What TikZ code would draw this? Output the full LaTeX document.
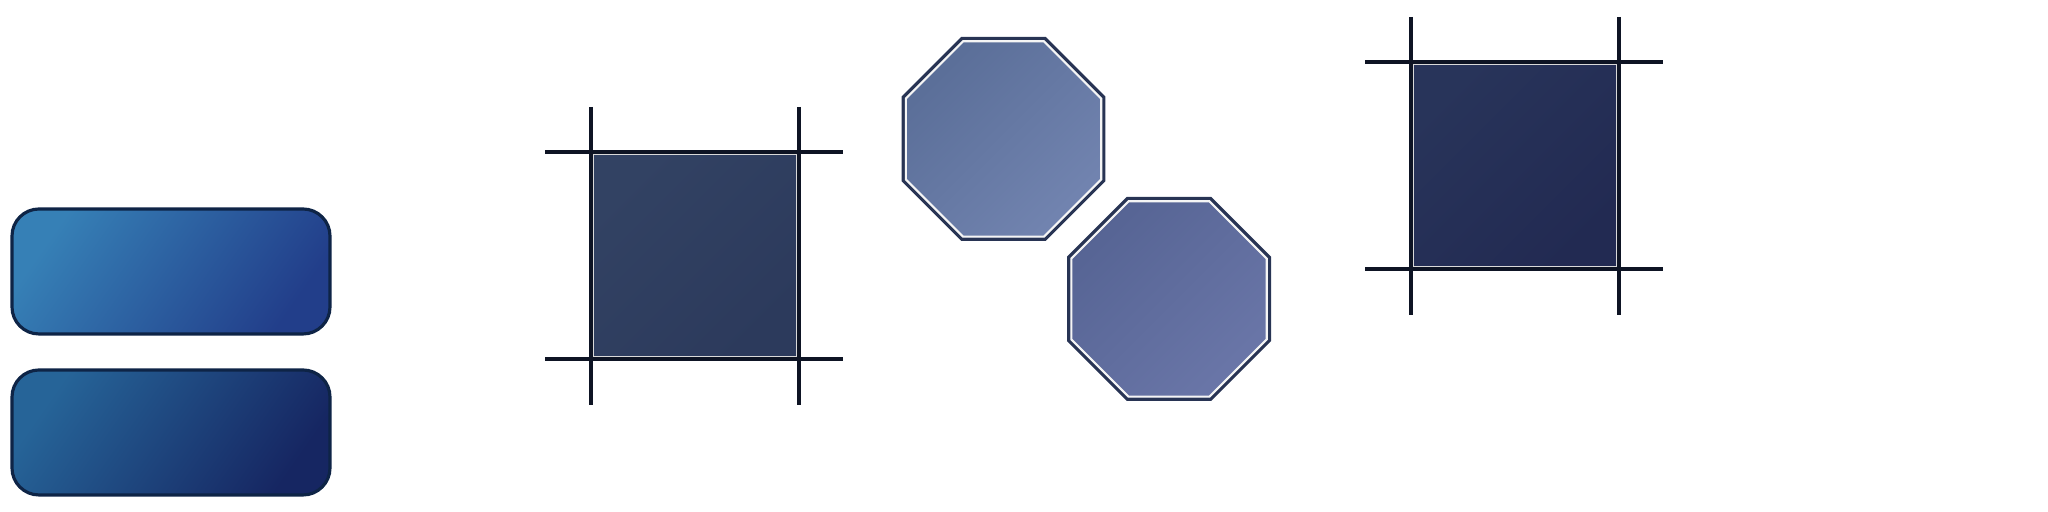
\documentclass[tikz,border=0pt]{standalone}
\usepackage{xcolor}
\definecolor{BoxLight}{RGB}{54,128,182}
\definecolor{BoxDark}{RGB}{34,62,138}
\definecolor{BoxLightB}{RGB}{38,100,152}
\definecolor{BoxDarkB}{RGB}{22,38,98}
\definecolor{BoxEdge}{RGB}{14,36,70}
\definecolor{SlateA}{RGB}{50,66,99}
\definecolor{SlateAdark}{RGB}{44,58,92}
\definecolor{SlateB}{RGB}{40,52,90}
\definecolor{SlateBdark}{RGB}{34,42,82}
\definecolor{CropInk}{RGB}{14,20,36}
\definecolor{OctDark}{RGB}{90,110,152}
\definecolor{OctLight}{RGB}{114,132,176}
\definecolor{OctDarkB}{RGB}{86,100,148}
\definecolor{OctLightB}{RGB}{106,118,168}
\definecolor{OctEdge}{RGB}{40,52,84}
\usetikzlibrary{shapes, shapes.geometric, positioning, calc}
\tikzset{
  % Rounded gradient bar
  rbar/.style={
    rectangle, rounded corners=0.27cm,
    draw=BoxEdge, line width=0.9pt,
    minimum width=3.18cm, minimum height=1.25cm,
    inner sep=0pt, outer sep=0pt
  },
  % Framed square (fill part)
  framesq/.style={
    rectangle, draw=white!70!gray, line width=0.5pt,
    minimum size=2.03cm, inner sep=0pt, outer sep=0pt
  },
  % Crop marks through the square corners
  crop/.style={CropInk, line width=1.1pt},
  % Octagon
  octo/.style={
    regular polygon, regular polygon sides=8,
    draw=OctEdge, line width=1pt,
    minimum size=2.17cm, inner sep=0pt, outer sep=0pt
  },
  octoline/.style={
    regular polygon, regular polygon sides=8,
    draw=white!92!gray, line width=0.6pt,
    minimum size=2.115cm, inner sep=0pt, outer sep=0pt
  },
}

\begin{document}
\begin{tikzpicture}

  \useasboundingbox (0,0) rectangle (20.48,5.12);

  %% Gradient bars
  \node[rbar, top color=BoxLight, bottom color=BoxDark, shading angle=55]
    (barA) at (1.71,2.405) {};
  \node[rbar, top color=BoxLightB, bottom color=BoxDarkB, shading angle=55]
    (barB) at (1.71,0.795) {};

  %% Square with crop marks (left)
  \node[framesq, top color=SlateA, bottom color=SlateAdark, shading angle=45]
    (sqA) at (6.95,2.565) {};
  \coordinate (sqAnw) at ($(sqA.center)+(-1.04,1.035)$);
  \coordinate (sqAse) at ($(sqA.center)+(1.04,-1.035)$);
  \draw[crop] ($(sqAnw)+(-0.46,0)$) -- ($(sqAnw)+(2.52,0)$);
  \draw[crop] ($(sqAse)+(-2.54,0)$) -- ($(sqAse)+(0.44,0)$);
  \draw[crop] ($(sqAnw)+(0,0.45)$) -- ($(sqAnw)+(0,-2.53)$);
  \draw[crop] ($(sqAse)+(0,2.52)$) -- ($(sqAse)+(0,-0.46)$);

  %% Octagons
  \node[octo, top color=OctDark, bottom color=OctLight, shading angle=45]
    (octA) at (10.035,3.73) {};
  \node[octoline] (octAin) at (octA.center) {};
  \node[octo, top color=OctDarkB, bottom color=OctLightB, shading angle=45]
    (octB) at (11.69,2.13) {};
  \node[octoline] (octBin) at (octB.center) {};

  %% Square with crop marks (right)
  \node[framesq, top color=SlateB, bottom color=SlateBdark, shading angle=45]
    (sqB) at (15.15,3.465) {};
  \coordinate (sqBnw) at ($(sqB.center)+(-1.04,1.035)$);
  \coordinate (sqBse) at ($(sqB.center)+(1.04,-1.035)$);
  \draw[crop] ($(sqBnw)+(-0.46,0)$) -- ($(sqBnw)+(2.52,0)$);
  \draw[crop] ($(sqBse)+(-2.54,0)$) -- ($(sqBse)+(0.44,0)$);
  \draw[crop] ($(sqBnw)+(0,0.45)$) -- ($(sqBnw)+(0,-2.53)$);
  \draw[crop] ($(sqBse)+(0,2.52)$) -- ($(sqBse)+(0,-0.46)$);

\end{tikzpicture}
\end{document}
